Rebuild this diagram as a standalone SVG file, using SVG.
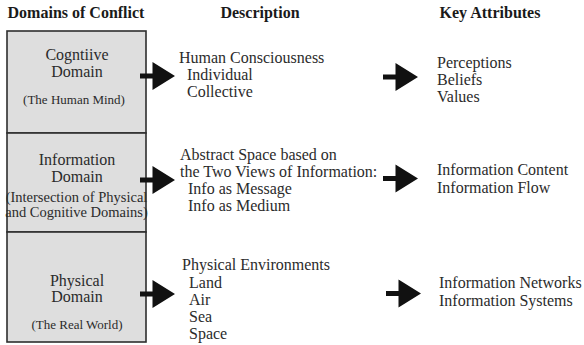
<svg xmlns="http://www.w3.org/2000/svg" xmlns:xlink="http://www.w3.org/1999/xlink" width="584" height="345" viewBox="0 0 584 345">
<style>
text{font-family:"Liberation Serif","Times New Roman",serif;fill:#2b2b2b;font-size:16px}
.h{font-weight:bold;fill:#1a1a1a}
.c{text-anchor:middle}
.s{font-size:13px}
.box{fill:#dedede;stroke:#2e2e2e;stroke-width:1.6}
.arr{fill:#111}
</style>
<defs>
<path id="arrow" d="M0,-2.6 H12.5 V-14 L35,0 L12.5,14 V2.6 H0 Z"/>
</defs>
<rect width="584" height="345" fill="#fff"/>
<g id="headers">
<text class="h c" x="76" y="18">Domains of Conflict</text>
<text class="h c" x="260" y="18">Description</text>
<text class="h c" x="490" y="18">Key Attributes</text>
</g>
<g id="cognitive-domain">
<rect class="box" x="7" y="31" width="139" height="102"/>
<text class="c" x="77" y="60">Cogntiive</text>
<text class="c" x="77" y="77">Domain</text>
<text class="c s" x="74" y="104">(The Human Mind)</text>
</g>
<g id="information-domain">
<rect class="box" x="7" y="133" width="139" height="99"/>
<text class="c" x="77" y="165">Information</text>
<text class="c" x="77" y="182">Domain</text>
<text class="c" x="76.5" y="202" style="font-size:14.5px">(Intersection of Physical</text>
<text class="c" x="76.5" y="217" style="font-size:14.5px">and Cognitive Domains)</text>
</g>
<g id="physical-domain">
<rect class="box" x="7" y="232" width="139" height="110"/>
<text class="c" x="77" y="286">Physical</text>
<text class="c" x="77" y="302">Domain</text>
<text class="c s" x="77" y="329">(The Real World)</text>
</g>
<g id="cognitive-description">
<text x="179" y="63">Human Consciousness</text>
<text x="187" y="80">Individual</text>
<text x="187" y="97">Collective</text>
</g>
<g id="information-description">
<text x="180" y="160">Abstract Space based on</text>
<text x="180" y="177">the Two Views of Information:</text>
<text x="188" y="194">Info as Message</text>
<text x="188" y="211">Info as Medium</text>
</g>
<g id="physical-description">
<text x="182" y="270">Physical Environments</text>
<text x="189" y="288">Land</text>
<text x="189" y="305">Air</text>
<text x="189" y="322">Sea</text>
<text x="189" y="339">Space</text>
</g>
<g id="cognitive-attributes">
<text x="437" y="68">Perceptions</text>
<text x="437" y="85">Beliefs</text>
<text x="437" y="102">Values</text>
</g>
<g id="information-attributes">
<text x="437" y="175">Information Content</text>
<text x="437" y="193">Information Flow</text>
</g>
<g id="physical-attributes">
<text x="439" y="288">Information Networks</text>
<text x="439" y="306">Information Systems</text>
</g>
<g id="connectors" class="arr">
<use xlink:href="#arrow" transform="translate(140,76)"/>
<use xlink:href="#arrow" transform="translate(140,180)"/>
<use xlink:href="#arrow" transform="translate(140,294)"/>
<use xlink:href="#arrow" transform="translate(383,77)"/>
<use xlink:href="#arrow" transform="translate(383,178.5)"/>
<use xlink:href="#arrow" transform="translate(386,293.5)"/>
</g>
</svg>
